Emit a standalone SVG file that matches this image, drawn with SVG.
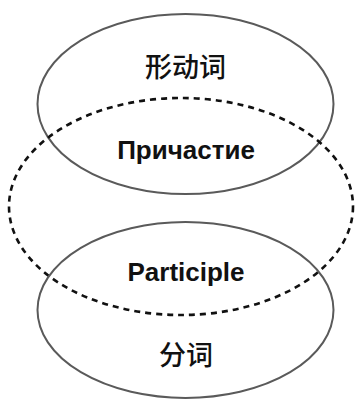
<svg xmlns="http://www.w3.org/2000/svg" width="356" height="400" viewBox="0 0 356 400">
<style>
.solid{fill:none;stroke:#5a5a5a;stroke-width:2}
.dash{fill:none;stroke:#111;stroke-width:2.6;stroke-dasharray:6 5}
.cjk{font-family:"Noto Sans CJK SC","Noto Sans",sans-serif;font-size:27px;font-weight:500;fill:#111;text-anchor:middle}
.lat{font-family:"Liberation Sans",Arial,sans-serif;font-weight:bold;font-size:26px;fill:#111;text-anchor:middle}
</style>
<rect width="356" height="400" fill="#fff"/>
<g id="connectors"></g>
<g id="verb-adjective">
<ellipse class="solid" cx="185.5" cy="104" rx="148" ry="90"/>
<text class="cjk" x="185.5" y="77">形动词</text>
</g>
<g id="participle-ru">
<ellipse class="dash" cx="181" cy="206.5" rx="172" ry="108.5"/>
<text class="lat" x="186" y="159">Причастие</text>
<text class="lat" x="186" y="281">Participle</text>
</g>
<g id="participle-zh">
<ellipse class="solid" cx="185.5" cy="310" rx="148" ry="88"/>
<text class="cjk" x="186" y="365">分词</text>
</g>
</svg>
